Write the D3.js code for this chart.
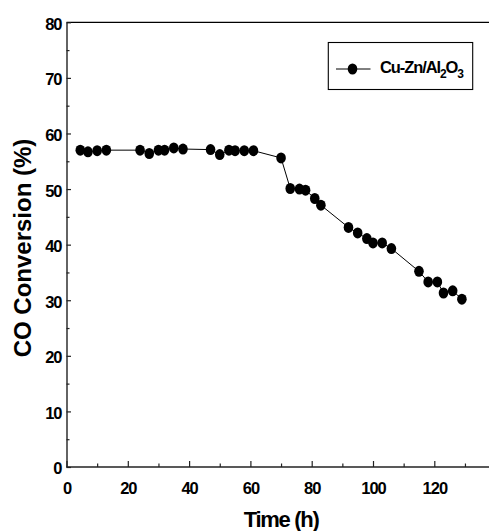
<!DOCTYPE html>
<html>
<head>
<meta charset="utf-8">
<script src="https://cdn.jsdelivr.net/npm/d3@7"></script>
<style>
  body { margin: 0; background: #fff; }
  svg { display: block; font-family: "Liberation Sans", Arial, sans-serif; }
  .tick text { font-weight: bold; font-size: 16.5px; letter-spacing: -1px; fill: #000; }
</style>
</head>
<body>
<div id="chart"></div>
<script>
// Time on stream (h) and CO conversion (%)
var timeHours = [4.5, 7, 10, 13, 24, 27, 30, 32, 35, 38, 47, 50, 53, 55, 58, 61,
  70, 73, 76, 78, 81, 83, 92, 95, 98, 100, 103, 106, 115, 118, 121, 123, 126, 129];
var coConversion = [57, 56.7, 56.9, 57, 57, 56.4, 57, 57, 57.4, 57.2, 57.1, 56.2, 57, 56.9, 56.9, 56.9,
  55.6, 50.1, 50, 49.8, 48.3, 47.1, 43.1, 42.1, 41.1, 40.3, 40.3, 39.3, 35.2, 33.3, 33.3, 31.3, 31.7, 30.2];
var xTicks = [0, 20, 40, 60, 80, 100, 120];
var yTicks = [0, 10, 20, 30, 40, 50, 60, 70, 80];
var seriesName = "Cu-Zn/Al";

var data = timeHours.map(function(t, i) { return { t: t, v: coConversion[i] }; });

var svgWidth = 489;
var svgHeight = 531;
var margin = { top: 22.3, left: 66.5 };
var chartWidth = 429.1;   // 0..140 h, right edge falls just outside the picture
var chartHeight = 444.7;

var svg = d3.select("#chart")
  .append("svg")
  .attr("width", svgWidth)
  .attr("height", svgHeight);

var chartGroup = svg.append("g")
  .attr("transform", `translate(${margin.left}, ${margin.top})`);

var xScale = d3.scaleLinear().domain([0, 140]).range([0, chartWidth]);
var yScale = d3.scaleLinear().domain([0, 80]).range([chartHeight, 0]);

// frame (top and right)
chartGroup.append("path")
  .attr("d", `M0,0H${chartWidth}V${chartHeight}`)
  .attr("fill", "none")
  .attr("stroke", "#000")
  .attr("stroke-width", 1.2);

// minor ticks
chartGroup.append("g")
  .attr("transform", `translate(0, ${chartHeight})`)
  .call(d3.axisBottom(xScale).tickValues(d3.range(10, 140, 20)).tickSize(-3.5).tickFormat(""))
  .call(g => g.select(".domain").remove());
chartGroup.append("g")
  .call(d3.axisLeft(yScale).tickValues(d3.range(5, 80, 10)).tickSize(-3).tickFormat(""))
  .call(g => g.select(".domain").remove());

// major axes
var xAxis = chartGroup.append("g")
  .attr("transform", `translate(0, ${chartHeight})`)
  .call(d3.axisBottom(xScale).tickValues(xTicks).tickSizeInner(-6).tickSizeOuter(0).tickPadding(15));
var yAxis = chartGroup.append("g")
  .call(d3.axisLeft(yScale).tickValues(yTicks).tickSizeInner(-4.5).tickSizeOuter(0).tickPadding(5));

// axis line runs on to 140 h, past the picture edge
xAxis.select(".domain").attr("d", `M0,0H${chartWidth}`);
svg.selectAll(".domain").attr("stroke", "#222").attr("stroke-width", 1.4);
svg.selectAll(".tick line").attr("stroke", "#222").attr("stroke-width", 1.2);
yAxis.selectAll(".tick text").attr("dy", "0.42em");

// line + markers
var line = d3.line().x(d => xScale(d.t)).y(d => yScale(d.v));
chartGroup.append("path")
  .datum(data)
  .attr("d", line)
  .attr("fill", "none")
  .attr("stroke", "#000")
  .attr("stroke-width", 1);

chartGroup.selectAll(".pt")
  .data(data)
  .enter()
  .append("ellipse")
  .attr("class", "pt")
  .attr("cx", d => xScale(d.t))
  .attr("cy", d => yScale(d.v))
  .attr("rx", 4.8)
  .attr("ry", 5.5)
  .attr("fill", "#000");

// axis titles
svg.append("text")
  .attr("x", margin.left + chartWidth / 2)
  .attr("y", 527)
  .attr("text-anchor", "middle")
  .attr("font-weight", "bold")
  .attr("font-size", "22px")
  .attr("letter-spacing", "-1.3px")
  .text("Time (h)");

svg.append("text")
  .attr("transform", "translate(31, 248) rotate(-90)")
  .attr("text-anchor", "middle")
  .attr("font-weight", "bold")
  .attr("font-size", "24px")
  .text("CO Conversion (%)");

// legend
var legend = svg.append("g");
legend.append("rect")
  .attr("x", 328.3).attr("y", 42.5)
  .attr("width", 144.4).attr("height", 47)
  .attr("fill", "#fff")
  .attr("stroke", "#000")
  .attr("stroke-width", 1.1);
legend.append("line")
  .attr("x1", 336).attr("x2", 370.5)
  .attr("y1", 69).attr("y2", 69)
  .attr("stroke", "#000").attr("stroke-width", 1);
legend.append("ellipse")
  .attr("cx", 352.5).attr("cy", 69)
  .attr("rx", 4.8).attr("ry", 5.5)
  .attr("fill", "#000");
var lt = legend.append("text")
  .attr("x", 380).attr("y", 72.5)
  .attr("font-weight", "bold")
  .attr("font-size", "16.5px")
  .attr("letter-spacing", "-1.1px");
lt.append("tspan").text(seriesName);
lt.append("tspan").attr("font-size", "12px").attr("dy", 5).text("2");
lt.append("tspan").attr("dy", -5).text("O");
lt.append("tspan").attr("font-size", "12px").attr("dy", 5).text("3");
</script>
</body>
</html>
